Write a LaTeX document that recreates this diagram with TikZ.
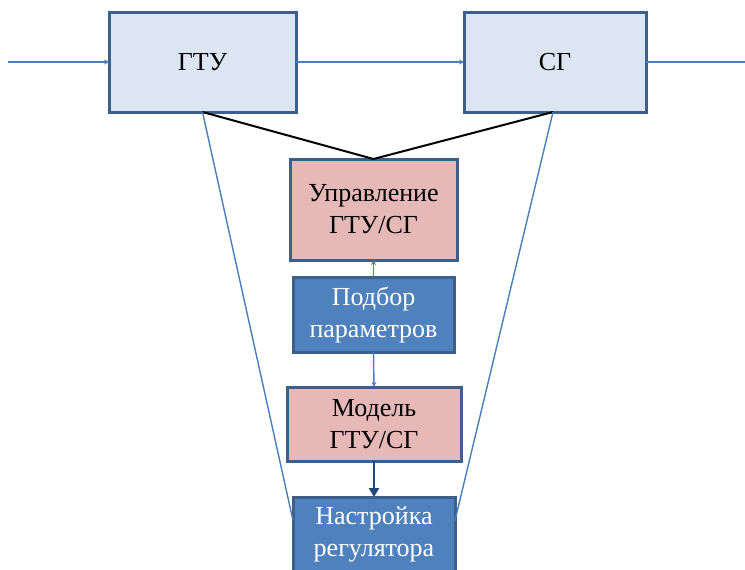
\documentclass[tikz,border=0pt]{standalone}
\usepackage{fontspec}
\setmainfont{Liberation Serif}
\usetikzlibrary{arrows.meta}
\definecolor{unitfill}{HTML}{DCE6F2}
\definecolor{boxedge}{HTML}{3E5F8A}
\definecolor{pinkfill}{HTML}{E6B8B7}
\definecolor{bluefill}{HTML}{4F81BD}
\definecolor{linkblue}{HTML}{4A7EBB}
\definecolor{darkarrow}{HTML}{1F497D}

\begin{document}
\begin{tikzpicture}[x=1pt,y=-1pt,inner sep=0pt,outer sep=0pt,
font=\fontsize{26}{32}\selectfont,
unitbox/.style={draw=boxedge,fill=unitfill,rectangle,line width=3pt,minimum height=100pt},
modelbox/.style={draw=boxedge,fill=pinkfill,rectangle,line width=3pt,align=center},
tunebox/.style={draw=boxedge,fill=bluefill,rectangle,line width=3pt,align=center,text=white},
link/.style={draw=linkblue,line width=1.4pt},
tie/.style={draw=black,line width=2pt}]

\useasboundingbox (0,0) rectangle (745,570);

\node[unitbox,minimum width=187pt] (GTU) at (202.5,62) {ГТУ};
\node[unitbox,minimum width=182pt] (SG) at (555,62) {СГ};
\node[modelbox,minimum width=167pt,minimum height=101pt] (ctrl) at (373.5,209.5) {Управление\\ГТУ/СГ};
\node[tunebox,minimum width=161pt,minimum height=75pt] (fit) at (373.5,314.5) {Подбор\\параметров};
\node[modelbox,minimum width=174pt,minimum height=74pt] (model) at (374,424) {Модель\\ГТУ/СГ};
\node[tunebox,minimum width=162pt,minimum height=75pt] (tune) at (374,534.5) {Настройка\\регулятора};

\coordinate (in) at (8,62);
\coordinate (out) at (745,62);

\draw[link,-{Stealth[length=5pt,width=5pt]}] (in) -- (GTU.west);
\draw[link,-{Stealth[length=5pt,width=5pt]}] (GTU.east) -- (SG.west);
\draw[link] (SG.east) -- (out);
\draw[tie] (GTU.south) -- (ctrl.north);
\draw[tie] ([xshift=-2pt]SG.south) -- (ctrl.north);
\draw[link,-{Stealth[length=5pt,width=5pt]}] (fit.north) -- (ctrl.south);
\draw[link,-{Stealth[length=5pt,width=5pt]}] (fit.south) -- (model.north);
\draw[draw=darkarrow,line width=2.5pt,-{Triangle[length=9pt,width=10pt]}] (model.south) -- (tune.north);
\draw[link] (GTU.south) -- ([yshift=14pt]tune.west);
\draw[link] ([xshift=-2pt]SG.south) -- ([yshift=14pt]tune.east);
\end{tikzpicture}
\end{document}
